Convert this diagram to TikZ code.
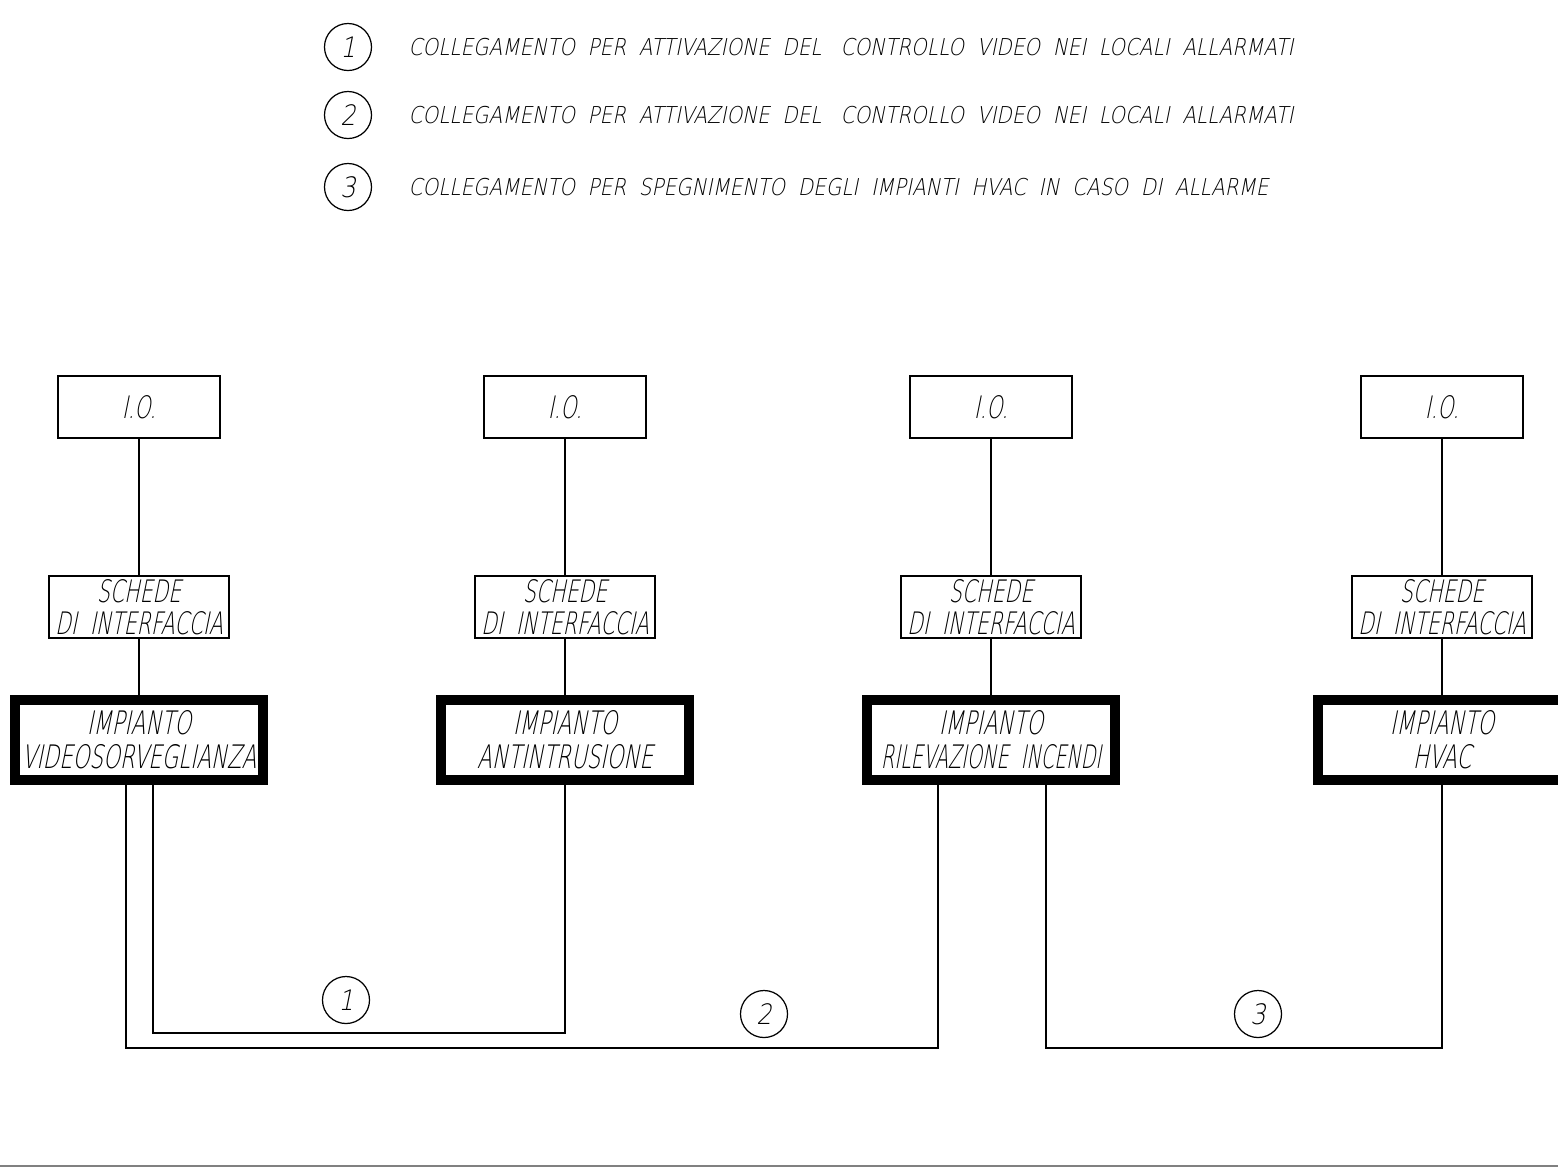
\documentclass[tikz,border=0pt]{standalone}
\usepackage{fontspec}
\newfontfamily\cadfont{DejaVu Sans ExtraLight}[FakeSlant=0.2,FakeStretch=0.66]
\newfontfamily\legfont{DejaVu Sans ExtraLight}[FakeSlant=0.2,FakeStretch=0.86]

\begin{document}
\begin{tikzpicture}[x=0.01cm, y=-0.01cm]
\tikzstyle{io} = [draw=black, line width=0.35pt, minimum width=1.62cm, minimum height=0.62cm, inner sep=0pt, align=center, font=\cadfont\fontsize{8.8}{9}\selectfont]
\tikzstyle{sk} = [io, minimum width=1.8cm]
\tikzstyle{imp} = [draw=black, line width=2.85pt, minimum width=2.48cm, minimum height=0.8cm, inner sep=0pt, align=center, font=\cadfont\fontsize{9.2}{9.6}\selectfont]
\tikzstyle{tag} = [circle, draw=black, line width=0.35pt, minimum size=0.47cm, inner sep=0pt, font=\legfont\fontsize{8}{8}\selectfont]
\tikzstyle{leg} = [anchor=west, inner sep=0pt, font=\legfont\fontsize{6.6}{7}\selectfont]
\tikzstyle{e} = [draw=black, line width=0.35pt]

\clip (0,0) rectangle (1558,1169);

% legenda
\node[tag] (L1) at (348,47) {1};
\node[tag] (L2) at (348,115) {2};
\node[tag] (L3) at (348,187) {3};
\node[leg] (T1) at (408,47) {COLLEGAMENTO\ \ PER\ \ ATTIVAZIONE\ \ DEL\ \ \ CONTROLLO\ \ VIDEO\ \ NEI\ \ LOCALI\ \ ALLARMATI};
\node[leg] (T2) at (408,115) {COLLEGAMENTO\ \ PER\ \ ATTIVAZIONE\ \ DEL\ \ \ CONTROLLO\ \ VIDEO\ \ NEI\ \ LOCALI\ \ ALLARMATI};
\node[leg] (T3) at (408,187) {COLLEGAMENTO\ \ PER\ \ SPEGNIMENTO\ \ DEGLI\ \ IMPIANTI\ \ HVAC\ \ IN\ \ CASO\ \ DI\ \ ALLARME};

\node[io] (io1) at (139,407) {I.O.};
\node[io] (io2) at (565,407) {I.O.};
\node[io] (io3) at (991,407) {I.O.};
\node[io] (io4) at (1442,407) {I.O.};

\node[sk] (sk1) at (139,607) {SCHEDE\\DI\ \ INTERFACCIA};
\node[sk] (sk2) at (565,607) {SCHEDE\\DI\ \ INTERFACCIA};
\node[sk] (sk3) at (991,607) {SCHEDE\\DI\ \ INTERFACCIA};
\node[sk] (sk4) at (1442,607) {SCHEDE\\DI\ \ INTERFACCIA};

\node[imp] (imp1) at (139,740) {IMPIANTO\\VIDEOSORVEGLIANZA};
\node[imp] (imp2) at (565,740) {IMPIANTO\\ANTINTRUSIONE};
\node[imp] (imp3) at (991,740) {IMPIANTO\\\scalebox{0.9}[1]{RILEVAZIONE\ \ INCENDI}};
\node[imp] (imp4) at (1442,740) {IMPIANTO\\HVAC};

\draw[e] (io1) to (sk1);
\draw[e] (io2) to (sk2);
\draw[e] (io3) to (sk3);
\draw[e] (io4) to (sk4);
\draw[e] (sk1) to (imp1);
\draw[e] (sk2) to (imp2);
\draw[e] (sk3) to (imp3);
\draw[e] (sk4) to (imp4);

% collegamenti
\coordinate (c1) at (346,1033);
\coordinate (c2) at (764,1048);
\coordinate (c3) at (1258,1048);
\draw[e] ([xshift=1.4mm]imp1.south) |- (c1) -| (imp2.south);
\draw[e] ([xshift=-1.3mm]imp1.south) |- (c2) -| ([xshift=-5.3mm]imp3.south);
\draw[e] ([xshift=5.5mm]imp3.south) |- (c3) -| (imp4.south);

\node[tag] (t1) at (346,1000) {1};
\node[tag] (t2) at (764,1014) {2};
\node[tag] (t3) at (1258,1014) {3};

\draw[gray, line width=0.6pt] (0,1166) -- (1558,1166);
\end{tikzpicture}
\end{document}
